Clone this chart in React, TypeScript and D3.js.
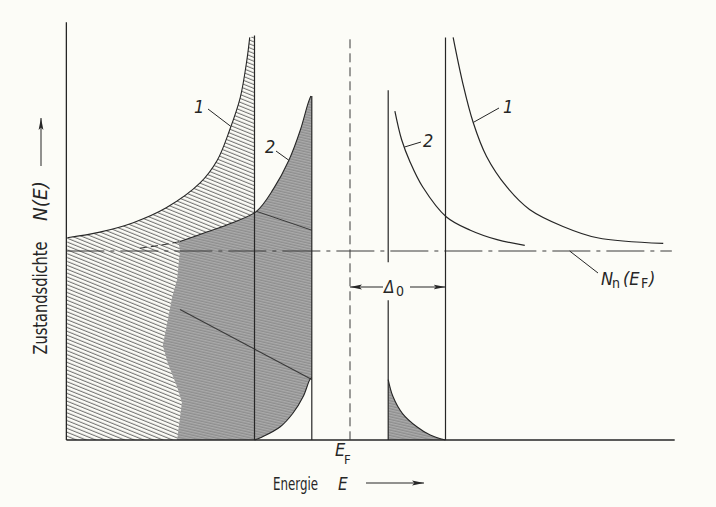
import React from 'react';
import * as d3 from 'd3';

// Density of states of a superconductor: energies in units of the T = 0 gap Δ0,
// measured from E_F; densities in units of the normal-state value N_n(E_F).
const W = 716;
const H = 507;

const E_MIN = -2.97;
const E_MAX = 3.4;
const E_DASHDOT_END = 3.37;
const N_AXIS_TOP = 2.21;

// gap edges: curve 1 (T = 0) and curve 2 (T > 0)
const GAP_1 = 1.0;
const GAP_2 = 0.4;
const EDGE_TOP_1_LEFT = 2.14;
const EDGE_TOP_1_RIGHT = 2.13;
const EDGE_TOP_2_LEFT = 1.82;
const EDGE_TOP_2_RIGHT = 1.85;
const EF_LINE_TOP = 2.12;
const RIGHT_EDGE_2_BREAK: [number, number] = [0.74, 0.94];

type P = [number, number];

// curve 1, below E_F (occupied states, T = 0)
const curve1Left: P[] = [
  [-2.96, 1.07], [-2.62, 1.1], [-2.27, 1.15], [-1.92, 1.23], [-1.57, 1.36],
  [-1.39, 1.48], [-1.26, 1.64], [-1.15, 1.81], [-1.08, 2.01], [-1.05, 2.13],
];
// curve 1, above E_F
const curve1Right: P[] = [
  [1.08, 2.13], [1.18, 1.89], [1.29, 1.68], [1.43, 1.5], [1.64, 1.34],
  [1.88, 1.22], [2.23, 1.13], [2.59, 1.07], [3.28, 1.04],
];
// curve 2, below E_F (solid part)
const curve2Left: P[] = [
  [-1.78, 1.05], [-1.5, 1.1], [-1.23, 1.15], [-0.98, 1.21], [-0.8, 1.33],
  [-0.64, 1.48], [-0.52, 1.64], [-0.44, 1.78], [-0.41, 1.82],
];
// curve 2, below E_F (dashed continuation)
const curve2LeftDashed: P[] = [
  [-2.2, 1.015], [-1.99, 1.03], [-1.78, 1.05],
];
// curve 2, above E_F
const curve2Right: P[] = [
  [0.47, 1.74], [0.54, 1.59], [0.63, 1.47], [0.76, 1.34], [1.01, 1.18],
  [1.26, 1.11], [1.54, 1.06], [1.83, 1.03],
];
// thermally emptied states just below the gap (curve 2)
const tailLeft: P[] = [
  [-0.4, 0.33], [-0.42, 0.32], [-0.49, 0.23], [-0.6, 0.14], [-0.73, 0.07],
  [-0.92, 0.016], [-1.0, 0],
];
// thermally occupied quasiparticle states above the gap (curve 2)
const tailRight: P[] = [
  [0.4, 0.32], [0.45, 0.23], [0.55, 0.14], [0.7, 0.07], [0.84, 0.026],
  [0.96, 0.005], [1.0, 0],
];
// left border of the screened (occupied, T > 0) area
const toneEdge: P[] = [
  [-1.81, 0], [-1.76, 0.2], [-1.81, 0.28], [-1.91, 0.41], [-1.96, 0.5],
  [-1.86, 0.76], [-1.81, 0.85], [-1.78, 1.005], [-1.8, 1.05],
];
// printed edges crossing the screened area
const toneLineA: P[] = [[-0.98, 1.21], [-0.4, 1.11]];
const toneLineB: P[] = [[-1.78, 0.69], [-0.4, 0.32]];

const x = d3.scaleLinear().domain([-GAP_1, GAP_1]).range([254.5, 445.5]);
const y = d3.scaleLinear().domain([0, 1]).range([440, 251]);

const px = (p: P): P => [x(p[0]), y(p[1])];
const smooth = d3.curveCatmullRom.alpha(0.5);

function linePath(pts: P[], curve: d3.CurveFactory = smooth): string {
  return d3.line().curve(curve)(pts.map(px)) || '';
}

function closedPath(segs: { pts: P[]; curve?: d3.CurveFactory }[]): string {
  return (
    segs
      .map((s, i) => {
        const d = linePath(s.pts, s.curve ?? smooth);
        return i === 0 ? d : 'L' + d.slice(1);
      })
      .join('') + 'Z'
  );
}

const INK = '#262626';
const FONT = "'Liberation Sans Narrow', 'DejaVu Sans Condensed', 'Roboto', sans-serif";

const hatchedArea = closedPath([
  { pts: [[E_MIN, 0]], curve: d3.curveLinear },
  { pts: curve1Left },
  { pts: [[-GAP_1, EDGE_TOP_1_LEFT], [-GAP_1, 0]], curve: d3.curveLinear },
]);

const screenedLeft = closedPath([
  { pts: toneEdge, curve: d3.curveLinear },
  { pts: curve2Left },
  { pts: [[-GAP_2, EDGE_TOP_2_LEFT], [-GAP_2, 0.33]], curve: d3.curveLinear },
  { pts: tailLeft },
]);

const screenedRight = closedPath([
  { pts: [[GAP_2, 0], [GAP_2, 0.32]], curve: d3.curveLinear },
  { pts: tailRight },
]);

function Label({ text, at, lx, ly, from }: { text: string; at: P; lx: number; ly: number; from: P }) {
  const [ax, ay] = px(at);
  return (
    <g>
      <line x1={from[0]} y1={from[1]} x2={ax} y2={ay} stroke={INK} strokeWidth={1} />
      <text x={lx} y={ly} fontFamily={FONT} fontSize={18} fontStyle="italic" fill={INK}>
        {text}
      </text>
    </g>
  );
}

export default function App() {
  const x0 = x(E_MIN);
  const yB = y(0);
  return (
    <svg
      width={W}
      height={H}
      viewBox={`0 0 ${W} ${H}`}
      style={{ position: 'absolute', left: 0, top: 0, display: 'block', background: '#fcfcf7' }}
    >
      <defs>
        <pattern id="hatch" patternUnits="userSpaceOnUse" width={10} height={3.6} patternTransform="rotate(22)">
          <line x1={0} y1={1.2} x2={10} y2={1.2} stroke="#444" strokeWidth={0.85} />
        </pattern>
        <pattern id="screen" patternUnits="userSpaceOnUse" width={10} height={2.6} patternTransform="rotate(13)">
          <rect width={10} height={2.6} fill="#ababab" />
          <line x1={0} y1={1} x2={10} y2={1} stroke="#777" strokeWidth={0.8} />
        </pattern>
        <marker id="arrow" viewBox="0 0 12 6" refX={12} refY={3} markerWidth={12} markerHeight={6}
          markerUnits="userSpaceOnUse" orient="auto-start-reverse">
          <path d="M0,0.6 L12,3 L0,5.4 L2.5,3 Z" fill={INK} />
        </marker>
      </defs>

      {/* shaded areas */}
      <path d={hatchedArea} fill="url(#hatch)" />
      <path d={screenedLeft} fill="url(#screen)" />
      <path d={screenedRight} fill="url(#screen)" />
      <path d={linePath(toneLineA, d3.curveLinear)} stroke="#3a3a3a" strokeWidth={1} fill="none" />
      <path d={linePath(toneLineB, d3.curveLinear)} stroke="#3a3a3a" strokeWidth={1.1} fill="none" />

      {/* axes */}
      <line x1={x0} y1={y(N_AXIS_TOP)} x2={x0} y2={yB} stroke={INK} strokeWidth={1.3} />
      <line x1={x0} y1={yB} x2={x(E_MAX)} y2={yB} stroke={INK} strokeWidth={1.3} />

      {/* N_n(E_F) level and Fermi energy */}
      <line x1={x0} y1={y(1)} x2={x(E_DASHDOT_END)} y2={y(1)} stroke="#3a3a3a" strokeWidth={1}
        strokeDasharray="38 6 4 6" />
      <line x1={x(0)} y1={y(EF_LINE_TOP)} x2={x(0)} y2={yB} stroke="#3a3a3a" strokeWidth={1}
        strokeDasharray="9 5" />

      {/* gap edges */}
      <line x1={x(-GAP_1)} y1={y(EDGE_TOP_1_LEFT)} x2={x(-GAP_1)} y2={yB} stroke={INK} strokeWidth={1.2} />
      <line x1={x(-GAP_2)} y1={y(EDGE_TOP_2_LEFT)} x2={x(-GAP_2)} y2={yB} stroke={INK} strokeWidth={1.2} />
      <line x1={x(GAP_2)} y1={y(EDGE_TOP_2_RIGHT)} x2={x(GAP_2)} y2={y(RIGHT_EDGE_2_BREAK[1])} stroke={INK} strokeWidth={1.2} />
      <line x1={x(GAP_2)} y1={y(RIGHT_EDGE_2_BREAK[0])} x2={x(GAP_2)} y2={yB} stroke={INK} strokeWidth={1.2} />
      <line x1={x(GAP_1)} y1={y(EDGE_TOP_1_RIGHT)} x2={x(GAP_1)} y2={yB} stroke={INK} strokeWidth={1.2} />

      {/* density-of-states curves */}
      <path d={linePath(curve1Left)} stroke={INK} strokeWidth={1.1} fill="none" />
      <path d={linePath(curve1Right)} stroke={INK} strokeWidth={1.2} fill="none" />
      <path d={linePath(curve2Left)} stroke={INK} strokeWidth={1.1} fill="none" />
      <path d={linePath(curve2LeftDashed)} stroke={INK} strokeWidth={1} fill="none" strokeDasharray="7 4" />
      <path d={linePath(curve2Right)} stroke={INK} strokeWidth={1.2} fill="none" />
      <path d={linePath(tailLeft)} stroke={INK} strokeWidth={1.1} fill="none" />
      <path d={linePath(tailRight)} stroke={INK} strokeWidth={1.1} fill="none" />

      {/* curve labels */}
      <Label text="1" at={[-1.25, 1.66]} lx={194} ly={113} from={[208, 109]} />
      <Label text="2" at={[-0.64, 1.48]} lx={265} ly={153} from={[276, 151]} />
      <Label text="1" at={[1.29, 1.68]} lx={503} ly={113} from={[499, 108]} />
      <Label text="2" at={[0.57, 1.55]} lx={423} ly={147} from={[421, 142]} />

      {/* N_n(E_F) annotation */}
      <line x1={x(2.3)} y1={y(1)} x2={598} y2={273} stroke={INK} strokeWidth={1} />
      <text y={285} fontFamily={FONT} fill={INK}>
        <tspan x={601} fontSize={18} fontStyle="italic">N</tspan>
        <tspan x={612} dy={3} fontSize={14}>n</tspan>
        <tspan x={623} dy={-3} fontSize={18} fontStyle="italic">(E</tspan>
        <tspan x={641} dy={3} fontSize={14}>F</tspan>
        <tspan x={649} dy={-3} fontSize={18} fontStyle="italic">)</tspan>
      </text>

      {/* gap width Δ0 */}
      <line x1={383} y1={287} x2={x(0)} y2={287} stroke={INK} strokeWidth={1} markerEnd="url(#arrow)" />
      <line x1={410} y1={287} x2={x(GAP_1)} y2={287} stroke={INK} strokeWidth={1} markerEnd="url(#arrow)" />
      <text y={293} fontFamily={FONT} fill={INK}>
        <tspan x={384} fontSize={17} fontStyle="italic">Δ</tspan>
        <tspan x={396} dy={3} fontSize={14}>0</tspan>
      </text>

      {/* Fermi energy label */}
      <text y={456} fontFamily={FONT} fill={INK}>
        <tspan x={335} fontSize={18} fontStyle="italic">E</tspan>
        <tspan x={344} dy={8} fontSize={13}>F</tspan>
      </text>

      {/* axis titles */}
      <text x={273} y={490} fontFamily={FONT} fontSize={18} fill={INK} textLength={45} lengthAdjust="spacingAndGlyphs">
        Energie
      </text>
      <text x={338} y={490} fontFamily={FONT} fontSize={17} fontStyle="italic" fill={INK}>E</text>
      <line x1={366} y1={483} x2={424} y2={483} stroke={INK} strokeWidth={1} markerEnd="url(#arrow)" />

      <text transform="translate(47,298) rotate(-90)" textAnchor="middle" fontFamily={FONT} fontSize={20}
        fill={INK} textLength={113} lengthAdjust="spacingAndGlyphs">
        Zustandsdichte
      </text>
      <text transform="translate(47,201) rotate(-90)" textAnchor="middle" fontFamily={FONT} fontSize={20}
        fontStyle="italic" fill={INK} textLength={40} lengthAdjust="spacingAndGlyphs">
        N(E)
      </text>
      <line x1={41} y1={166} x2={41} y2={118} stroke={INK} strokeWidth={1} markerEnd="url(#arrow)" />
    </svg>
  );
}
